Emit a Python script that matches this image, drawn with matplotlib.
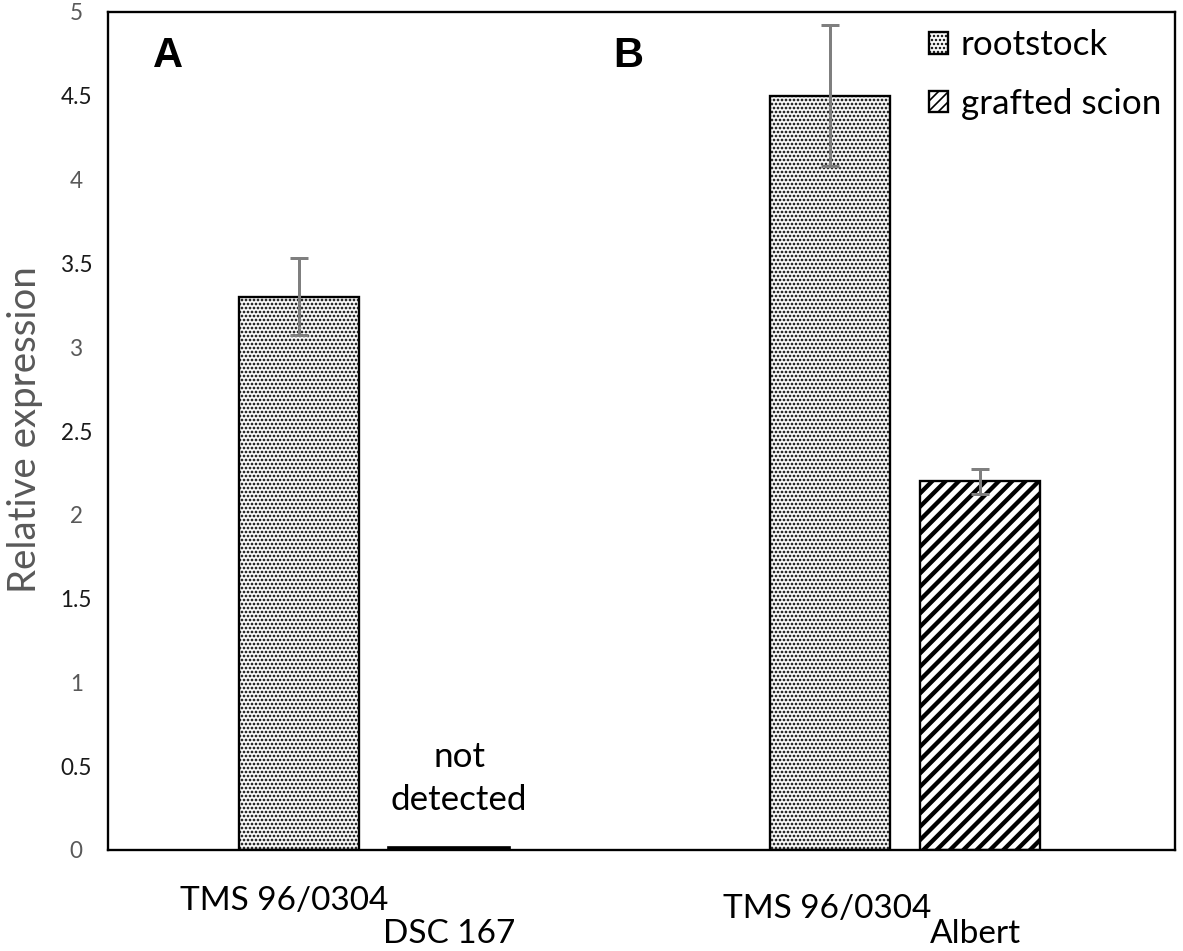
import matplotlib
matplotlib.use('Agg')
import matplotlib.pyplot as plt
from matplotlib.patches import Patch

plt.rcParams['font.family'] = ['Lato', 'DejaVu Sans']

# data
groups = ['A', 'B']
rootstock_names = ['TMS 96/0304', 'TMS 96/0304']
scion_names = ['DSC 167', 'Albert']
rootstock = [3.30, 4.50]
rootstock_err = [0.23, 0.42]
scion = [0.012, 2.20]
scion_err = [0.0, 0.075]
yticks = [0, 0.5, 1, 1.5, 2, 2.5, 3, 3.5, 4, 4.5, 5]
ytick_labels = ['0', '0.5', '1', '1.5', '2', '2.5', '3', '3.5', '4', '4.5', '5']

# layout
dpi = 120
group_x = [2.66, 7.97]
offset = 0.7525
width = 1.2
err_color = '#7f7f7f'

fig = plt.figure(figsize=(1183 / dpi, 951 / dpi), dpi=dpi)
ax = fig.add_axes([108 / 1183, 101 / 951, 1067 / 1183, 838 / 951])

root_x = [g - offset for g in group_x]
scion_x = [g + offset for g in group_x]

with plt.rc_context({'hatch.linewidth': 1.1, 'hatch.color': '#111111'}):
    ax.bar(root_x, rootstock, width, color='white', edgecolor='black',
           linewidth=1.4, hatch='.....', zorder=2)
    root_handle = Patch(facecolor='white', edgecolor='black', linewidth=1.4, hatch='.....')
with plt.rc_context({'hatch.linewidth': 2.6, 'hatch.color': '#222222'}):
    bars = ax.bar(scion_x, scion, width, color='white', edgecolor='black',
                  linewidth=1.4, hatch='///', zorder=2)
    scion_handle = Patch(facecolor='white', edgecolor='black', linewidth=1.4, hatch='////')
# the "not detected" bar is only a thick line on the baseline
bars[0].set_linewidth(2.2)

ax.errorbar(root_x, rootstock, yerr=rootstock_err, fmt='none', ecolor=err_color,
            elinewidth=1.8, capsize=5.2, capthick=1.8, zorder=3)
ex = [x for x, e in zip(scion_x, scion_err) if e > 0]
ev = [v for v, e in zip(scion, scion_err) if e > 0]
ee = [e for e in scion_err if e > 0]
ax.errorbar(ex, ev, yerr=ee, fmt='none', ecolor=err_color,
            elinewidth=1.8, capsize=5.2, capthick=1.8, zorder=3)

ax.set_xlim(0, 10.67)
ax.set_ylim(0, 5)
ax.set_xticks([])
ax.set_yticks(yticks)
ax.set_yticklabels(ytick_labels)
for lab, v in zip(ax.get_yticklabels(), yticks):
    lab.set_color('#595959' if v == int(v) else '#1a1a1a')
    lab.set_horizontalalignment('center')
ax.tick_params(axis='y', length=0, pad=19, labelsize=13.5)
for s in ax.spines.values():
    s.set_linewidth(1.4)
    s.set_color('black')

fig.text(25 / 1183, 1 - 430 / 951, 'Relative expression', rotation=90,
         ha='center', va='center', fontsize=23, color='#595959')

# category labels under the axis (staggered)
tr = ax.get_xaxis_transform()
ax.text(root_x[0] - 0.15, -0.061, rootstock_names[0], transform=tr,
        ha='center', va='center', fontsize=20)
ax.text(scion_x[0], -0.1, scion_names[0], transform=tr,
        ha='center', va='center', fontsize=20)
ax.text(root_x[1] - 0.03, -0.071, rootstock_names[1], transform=tr,
        ha='center', va='center', fontsize=20)
ax.text(scion_x[1] - 0.05, -0.1, scion_names[1], transform=tr,
        ha='center', va='center', fontsize=20)

ax.text(scion_x[0] + 0.1, 0.425, 'not\ndetected', ha='center', va='center',
        fontsize=21, linespacing=1.42)

for g, name in zip([0.6, 5.2], groups):
    ax.text(g, 4.74, name, ha='center', va='center', fontsize=25,
            fontweight='bold', family='Liberation Sans')

ax.legend([root_handle, scion_handle], ['rootstock', 'grafted scion'],
          loc='upper right', bbox_to_anchor=(1.0, 0.996), frameon=False,
          fontsize=21, handlelength=0.55, handleheight=0.55, handletextpad=0.35,
          labelspacing=0.75, borderaxespad=0.0)

fig.savefig('out.png', dpi=dpi)
